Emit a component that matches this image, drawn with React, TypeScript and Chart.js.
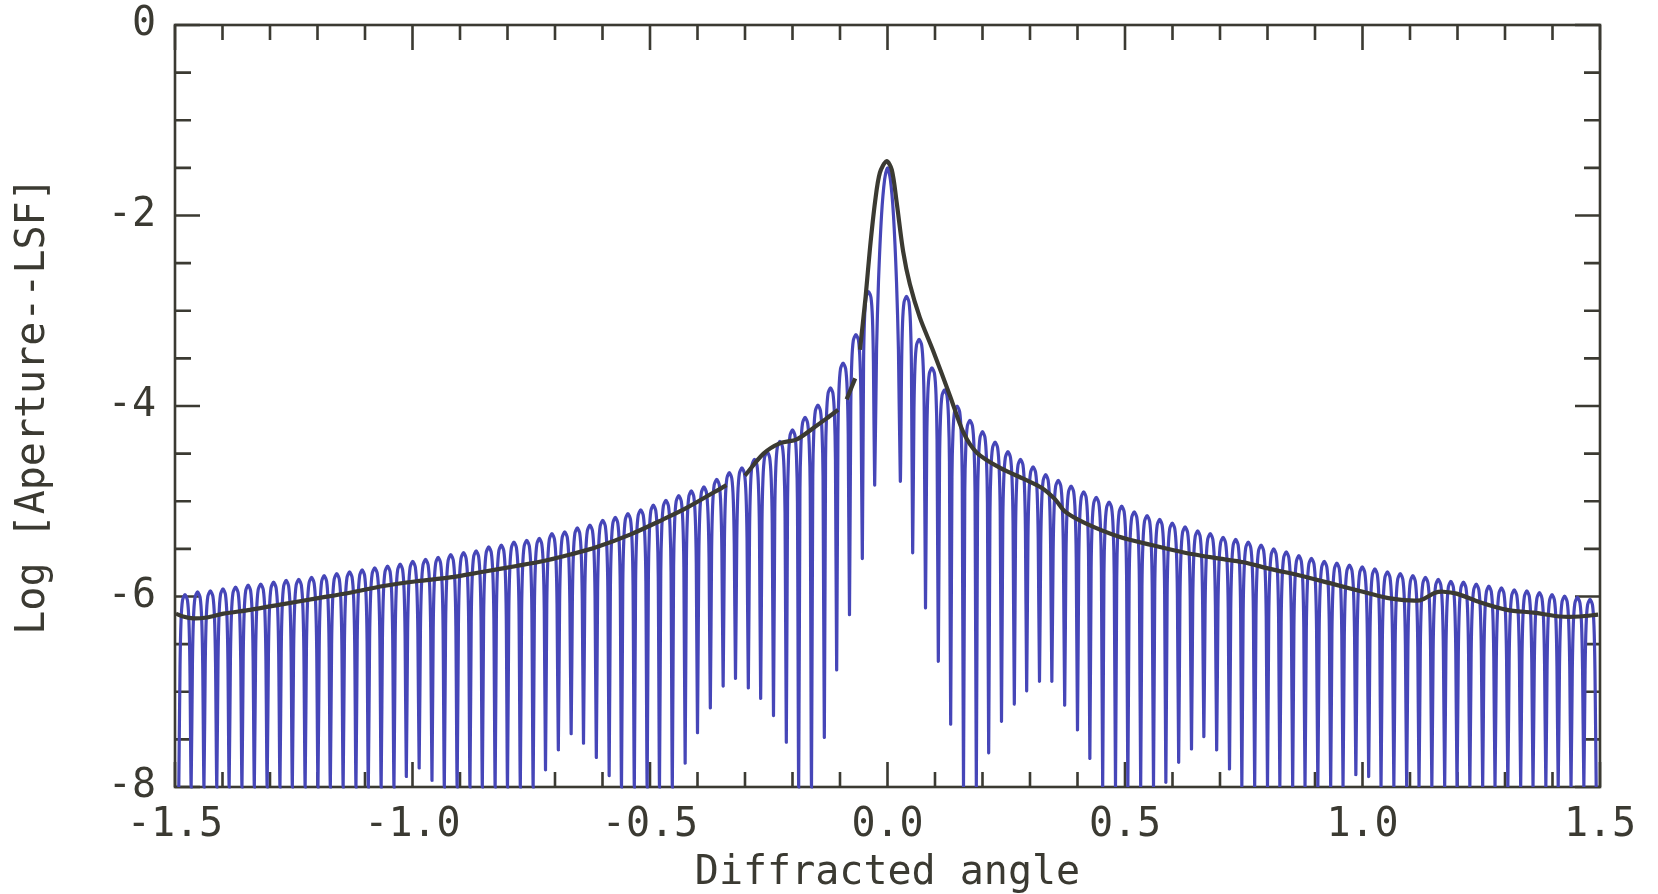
import { useEffect, useRef } from "react";
import { Chart, registerables } from "chart.js";

Chart.register(...registerables);

const xAxisTitle = "Diffracted angle";
const yAxisTitle = "Log [Aperture--LSF]";
const xMajorStep = 0.5;
const yMajorStep = 2;
const xTickValues = [-1.5,-1.4,-1.3,-1.2,-1.1,-1.0,-0.9,-0.8,-0.7,-0.6,-0.5,-0.4,-0.3,-0.2,-0.1,0,0.1,0.2,0.3,0.4,0.5,0.6,0.7,0.8,0.9,1.0,1.1,1.2,1.3,1.4,1.5];
const xMajorTicks = [-1.5,-1.0,-0.5,0,0.5,1.0,1.5];
const yTickValues = [0,-0.5,-1,-1.5,-2,-2.5,-3,-3.5,-4,-4.5,-5,-5.5,-6,-6.5,-7,-7.5,-8];
const yMajorTicks = [0,-2,-4,-6,-8];

// distance of each diffraction null from the centre
const nullAngles = [0.027,0.053,0.080,0.107,0.133,0.160,0.187,0.213,0.240,0.267,0.293,0.320,0.346,0.373,0.400,0.426,0.453,0.480,0.506,0.533,0.560,0.586,0.613,0.640,0.666,0.693,0.720,0.746,0.773,0.800,0.826,0.853,0.879,0.906,0.933,0.959,0.986,1.013,1.039,1.066,1.093,1.119,1.146,1.173,1.199,1.226,1.253,1.279,1.306,1.333,1.359,1.386,1.412,1.439,1.466,1.492];
const leftNulls = [-4.83,-5.60,-6.19,-6.77,-7.48,-8,-8,-7.53,-7.25,-7.07,-6.96,-6.86,-6.94,-7.17,-7.43,-7.75,-8,-8,-8,-8,-8,-7.88,-7.69,-7.54,-7.44,-7.61,-7.82,-8,-8,-8,-8,-8,-8,-8,-8,-7.93,-7.80,-7.89,-8,-8,-8,-8,-8,-8,-8,-8,-8,-8,-8,-8,-8,-8,-8,-8,-8,-8];
const rightNulls = [-4.79,-5.54,-6.12,-6.68,-7.34,-8,-8,-7.64,-7.31,-7.13,-6.99,-6.89,-6.89,-7.14,-7.40,-7.70,-8,-8,-8,-8,-8,-7.95,-7.74,-7.60,-7.47,-7.61,-7.81,-8,-8,-8,-8,-8,-8,-8,-8,-8,-7.87,-7.89,-8,-8,-8,-8,-8,-8,-8,-8,-8,-8,-8,-8,-8,-8,-8,-8,-8,-8];
// height of the side lobe that lies outside each null
const leftPeaks = [-2.8,-3.25,-3.55,-3.81,-3.99,-4.12,-4.25,-4.37,-4.48,-4.56,-4.65,-4.70,-4.77,-4.85,-4.89,-4.94,-4.99,-5.04,-5.09,-5.13,-5.17,-5.20,-5.25,-5.28,-5.32,-5.34,-5.39,-5.41,-5.43,-5.46,-5.48,-5.52,-5.54,-5.56,-5.59,-5.61,-5.63,-5.66,-5.68,-5.70,-5.72,-5.74,-5.76,-5.78,-5.80,-5.82,-5.83,-5.85,-5.87,-5.88,-5.90,-5.92,-5.94,-5.95,-5.98];
const rightPeaks = [-2.85,-3.30,-3.60,-3.83,-4.00,-4.15,-4.27,-4.38,-4.48,-4.56,-4.64,-4.72,-4.78,-4.84,-4.90,-4.96,-5.01,-5.05,-5.11,-5.15,-5.19,-5.23,-5.27,-5.31,-5.34,-5.38,-5.40,-5.43,-5.46,-5.50,-5.53,-5.57,-5.60,-5.63,-5.65,-5.67,-5.69,-5.71,-5.74,-5.76,-5.78,-5.80,-5.82,-5.84,-5.85,-5.87,-5.89,-5.91,-5.93,-5.94,-5.96,-5.98,-5.995,-6.01,-6.03];
// shape of one lobe: place across the lobe, drop below its top
const lobePlaces = [0.10,0.18,0.30,0.50,0.70,0.82,0.90];
const lobeDrops = [0.75,0.28,0.06,0,0.06,0.28,0.75];
const centreLobeX = [-0.023,-0.019,-0.0126,-0.006,0,0.006,0.0126,0.019,0.023];
const centreLobeY = [-3.4,-2.7,-2.0,-1.62,-1.5,-1.62,-2.0,-2.7,-3.4];

// dark envelope; null marks a break in the printed line
const envelopeX = [-1.498,-1.483,-1.461,-1.433,-1.398,-1.342,-1.272,-1.202,-1.132,-1.061,-0.991,-0.921,-0.851,-0.781,-0.717,-0.668,-0.612,-0.542,-0.472,-0.423,-0.339,-0.32,-0.300,-0.261,-0.226,-0.191,-0.156,-0.128,-0.104,-0.095,-0.086,-0.068,-0.063,-0.058,-0.046,-0.037,-0.026,-0.016,-0.002,0.009,0.019,0.033,0.047,0.068,0.096,0.132,0.160,0.188,0.237,0.289,0.325,0.353,0.374,0.416,0.486,0.556,0.626,0.696,0.749,0.805,0.868,0.939,1.009,1.058,1.121,1.153,1.170,1.198,1.247,1.304,1.360,1.416,1.458,1.496];
const envelopeY = [-6.18,-6.21,-6.23,-6.22,-6.18,-6.14,-6.08,-6.02,-5.96,-5.89,-5.84,-5.80,-5.74,-5.68,-5.62,-5.56,-5.48,-5.35,-5.19,-5.07,-4.83,null,-4.73,-4.50,-4.39,-4.35,-4.23,-4.13,-4.04,null,-3.93,-3.71,null,-3.41,-2.85,-2.35,-1.85,-1.55,-1.43,-1.52,-1.85,-2.38,-2.72,-3.07,-3.42,-3.90,-4.28,-4.49,-4.65,-4.77,-4.86,-4.98,-5.11,-5.23,-5.37,-5.46,-5.54,-5.60,-5.64,-5.71,-5.78,-5.87,-5.96,-6.02,-6.04,-5.96,-5.95,-5.97,-6.06,-6.14,-6.17,-6.21,-6.21,-6.19];

const INK = "#3b3a32";
const BLUE = "#4646b8";
const monoFont = "'DejaVu Sans Mono', monospace";

function lobeTable() {
  const pts: { x: number; y: number }[] = [];
  const addLobe = (from: number, to: number, top: number) => {
    lobePlaces.forEach((p, i) => pts.push({ x: from + (to - from) * p, y: top - lobeDrops[i] }));
  };
  for (let k = nullAngles.length - 1; k >= 0; k--) {
    pts.push({ x: -nullAngles[k], y: leftNulls[k] });
    if (k > 0) addLobe(-nullAngles[k], -nullAngles[k - 1], leftPeaks[k - 1]);
  }
  centreLobeX.forEach((x, i) => pts.push({ x, y: centreLobeY[i] }));
  for (let k = 0; k < nullAngles.length; k++) {
    pts.push({ x: nullAngles[k], y: rightNulls[k] });
    if (k < nullAngles.length - 1) addLobe(nullAngles[k], nullAngles[k + 1], rightPeaks[k]);
  }
  return pts;
}

const frameAndTicks = {
  id: "frameAndTicks",
  beforeDatasetsDraw(chart: any) {
    const { ctx, chartArea: a, scales } = chart;
    ctx.save();
    ctx.strokeStyle = INK;
    ctx.lineWidth = 2.6;
    ctx.strokeRect(a.left, a.top, a.right - a.left, a.bottom - a.top);
    xTickValues.forEach((v) => {
      const x = scales.x.getPixelForValue(v);
      const len = xMajorTicks.includes(v) ? 25 : 15;
      ctx.beginPath();
      ctx.moveTo(x, a.top); ctx.lineTo(x, a.top + len);
      ctx.moveTo(x, a.bottom); ctx.lineTo(x, a.bottom - len);
      ctx.stroke();
    });
    yTickValues.forEach((v) => {
      const y = scales.y.getPixelForValue(v);
      const len = yMajorTicks.includes(v) ? 25 : 16;
      ctx.beginPath();
      ctx.moveTo(a.left, y); ctx.lineTo(a.left + len, y);
      ctx.moveTo(a.right, y); ctx.lineTo(a.right - len, y);
      ctx.stroke();
    });
    ctx.restore();
  },
};

export default function App() {
  const ref = useRef<HTMLCanvasElement>(null);
  useEffect(() => {
    const chart = new Chart(ref.current!, {
      type: "line",
      data: {
        datasets: [
          { label: "Aperture", data: envelopeX.map((x, i) => ({ x, y: envelopeY[i] })), borderColor: INK, borderWidth: 4.2, pointRadius: 0, tension: 0.3, spanGaps: false, order: 1 },
          { label: "LSF", data: lobeTable(), borderColor: BLUE, borderWidth: 3.2, pointRadius: 0, tension: 0.25, clip: 3, order: 2 },
        ],
      } as any,
      plugins: [frameAndTicks],
      options: {
        animation: false,
        responsive: false,
        parsing: false,
        layout: { padding: { top: 25, right: 58, left: 0, bottom: 0 } },
        plugins: { legend: { display: false }, tooltip: { enabled: false } },
        scales: {
          x: {
            type: "linear", min: -1.5, max: 1.5,
            grid: { display: false }, border: { display: false },
            afterFit: (s: any) => { s.height = 107; s.paddingLeft = 0; s.paddingRight = 0; },
            ticks: {
              stepSize: xMajorStep, autoSkip: false, maxRotation: 0, padding: 7, color: INK,
              font: { family: monoFont, size: 40 },
              callback: (v: any) => Number(v).toFixed(1),
            },
            title: { display: true, text: xAxisTitle, color: INK, font: { family: monoFont, size: 40 }, padding: { top: 0, bottom: -4 } },
          },
          y: {
            type: "linear", min: -8, max: 0,
            grid: { display: false }, border: { display: false },
            afterFit: (s: any) => { s.width = 175; s.paddingTop = 0; s.paddingBottom = 0; },
            ticks: {
              stepSize: yMajorStep, autoSkip: false, padding: 11, color: INK,
              font: { family: monoFont, size: 40 },
              callback: (v: any) => String(v),
            },
            title: { display: true, text: yAxisTitle, color: INK, font: { family: monoFont, size: 40 }, padding: { top: 10, bottom: 0 } },
          },
        },
      },
    } as any);
    return () => chart.destroy();
  }, []);
  return (
    <div style={{ position: "absolute", left: 0, top: 0, width: 1658, height: 894, background: "#fff" }}>
      <canvas ref={ref} width={1658} height={894} style={{ display: "block", width: 1658, height: 894 }} />
    </div>
  );
}
